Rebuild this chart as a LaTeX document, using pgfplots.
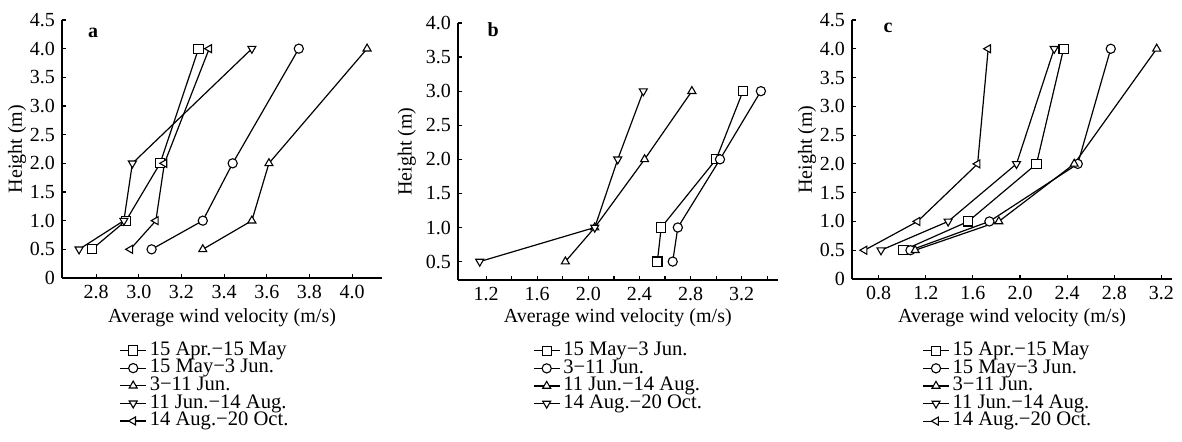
\documentclass[border=0pt]{standalone}
\usepackage{fontspec}
\setmainfont{Liberation Serif}
\usepackage{pgfplots}
\pgfplotsset{compat=1.18}

\pgfplotsset{
  windax/.style={
    scale only axis, anchor=south west,
    width=160pt, height=129pt,
    axis x line*=bottom, axis y line*=left,
    axis line style={line width=0.7pt, -},
    tick align=inside, tick style={line width=0.6pt, black},
    major tick length=2.2pt, minor tick length=2pt,
    font=\fontsize{10}{12}\selectfont,
    tick label style={font=\fontsize{10}{12}\selectfont},
    xlabel={Average wind velocity (m/s)},
    ylabel={Height (m)},
    legend cell align=left,
    legend image code/.code={\draw[mark repeat=2,mark phase=2,#1,every mark/.append style={fill=none}] plot coordinates {(0pt,0pt)(6.5pt,0pt)(13pt,0pt)};},
    legend style={draw=none, fill=none, anchor=north west,
      font=\fontsize{10.3}{11}\selectfont,
      nodes={inner sep=0pt, text height=6.8pt, text depth=2pt},
      row sep=0pt, column sep=1.5pt},
  },
  ser/.style={black, line width=0.6pt, mark size=2.3pt, mark options={solid, fill=white, line width=0.55pt}},
  sq/.style={ser, mark=square*},
  ci/.style={ser, mark=*},
  tu/.style={ser, mark=triangle*},
  td/.style={ser, mark=triangle*, mark options={solid, fill=white, line width=0.55pt, rotate=180}},
  tl/.style={ser, mark=triangle*, mark options={solid, fill=white, line width=0.55pt, rotate=90}},
}

\begin{document}
\begin{tikzpicture}
\useasboundingbox (0,0) rectangle (591pt,221pt);

% panel a
\begin{axis}[windax, at={(31pt,82pt)},
  xmin=2.64, xmax=4.14, ymin=0, ymax=4.5,
  xtick={2.8,3.0,3.2,3.4,3.6,3.8,4.0},
  xticklabels={2.8,3.0,3.2,3.4,3.6,3.8,4.0},
  ytick={0,0.5,1,1.5,2,2.5,3,3.5,4,4.5},
  yticklabels={0,0.5,1.0,1.5,2.0,2.5,3.0,3.5,4.0,4.5},
  xlabel style={at={(axis description cs:0.5,-0.155)}, anchor=center},
  ylabel style={at={(axis description cs:-0.14,0.5)}, anchor=center},
  legend style={at={(0.16,-0.23)}},
]
\addplot[sq] coordinates {(2.78,0.5)(2.94,1.0)(3.10,2.0)(3.28,4.0)};
\addlegendentry{15 Apr.−15 May}
\addplot[ci] coordinates {(3.06,0.5)(3.30,1.0)(3.44,2.0)(3.75,4.0)};
\addlegendentry{15 May−3 Jun.}
\addplot[tu] coordinates {(3.30,0.5)(3.53,1.0)(3.61,2.0)(4.07,4.0)};
\addlegendentry{3−11 Jun.}
\addplot[td] coordinates {(2.72,0.5)(2.93,1.0)(2.97,2.0)(3.53,4.0)};
\addlegendentry{11 Jun.−14 Aug.}
\addplot[tl] coordinates {(2.96,0.5)(3.08,1.0)(3.12,2.0)(3.33,4.0)};
\addlegendentry{14 Aug.−20 Oct.}
\node[font=\fontsize{10}{12}\selectfont\bfseries] at (rel axis cs:0.097,0.95) {a};
\end{axis}

% panel b
\begin{axis}[windax, at={(229pt,81pt)}, width=159.75pt, height=128.5pt,
  xmin=0.98, xmax=3.48, ymin=0.23, ymax=4.0,
  xtick={1.2,1.6,2.0,2.4,2.8,3.2},
  xticklabels={1.2,1.6,2.0,2.4,2.8,3.2},
  minor xtick={1.4,1.8,2.2,2.6,3.0,3.4},
  ytick={0.5,1,1.5,2,2.5,3,3.5,4},
  yticklabels={0.5,1.0,1.5,2.0,2.5,3.0,3.5,4.0},
  xlabel style={at={(axis description cs:0.5,-0.148)}, anchor=center},
  ylabel style={at={(axis description cs:-0.16,0.5)}, anchor=center},
  legend style={at={(0.215,-0.224)}},
]
\addplot[sq] coordinates {(2.54,0.5)(2.57,1.0)(3.00,2.0)(3.21,3.0)};
\addlegendentry{15 May−3 Jun.}
\addplot[ci] coordinates {(2.66,0.5)(2.70,1.0)(3.03,2.0)(3.35,3.0)};
\addlegendentry{3−11 Jun.}
\addplot[tu] coordinates {(1.82,0.5)(2.05,1.0)(2.44,2.0)(2.81,3.0)};
\addlegendentry{11 Jun.−14 Aug.}
\addplot[td] coordinates {(1.15,0.5)(2.05,1.0)(2.23,2.0)(2.43,3.0)};
\addlegendentry{14 Aug.−20 Oct.}
\node[font=\fontsize{10}{12}\selectfont\bfseries] at (rel axis cs:0.11,0.973) {b};
\end{axis}

% panel c
\begin{axis}[windax, at={(426pt,81.5pt)}, height=129.5pt,
  xmin=0.574, xmax=3.29, ymin=0, ymax=4.5,
  xtick={0.8,1.2,1.6,2.0,2.4,2.8,3.2},
  xticklabels={0.8,1.2,1.6,2.0,2.4,2.8,3.2},
  ytick={0,0.5,1,1.5,2,2.5,3,3.5,4,4.5},
  yticklabels={0,0.5,1.0,1.5,2.0,2.5,3.0,3.5,4.0,4.5},
  xlabel style={at={(axis description cs:0.5,-0.151)}, anchor=center},
  ylabel style={at={(axis description cs:-0.14,0.5)}, anchor=center},
  legend style={at={(0.2,-0.226)}},
]
\addplot[sq] coordinates {(1.01,0.5)(1.56,1.0)(2.14,2.0)(2.37,4.0)};
\addlegendentry{15 Apr.−15 May}
\addplot[ci] coordinates {(1.07,0.5)(1.74,1.0)(2.49,2.0)(2.77,4.0)};
\addlegendentry{15 May−3 Jun.}
\addplot[tu] coordinates {(1.11,0.5)(1.82,1.0)(2.46,2.0)(3.16,4.0)};
\addlegendentry{3−11 Jun.}
\addplot[td] coordinates {(0.82,0.5)(1.39,1.0)(1.97,2.0)(2.29,4.0)};
\addlegendentry{11 Jun.−14 Aug.}
\addplot[tl] coordinates {(0.68,0.5)(1.13,1.0)(1.64,2.0)(1.73,4.0)};
\addlegendentry{14 Aug.−20 Oct.}
\node[font=\fontsize{10}{12}\selectfont\bfseries] at (rel axis cs:0.1125,0.969) {c};
\end{axis}
\end{tikzpicture}
\end{document}
